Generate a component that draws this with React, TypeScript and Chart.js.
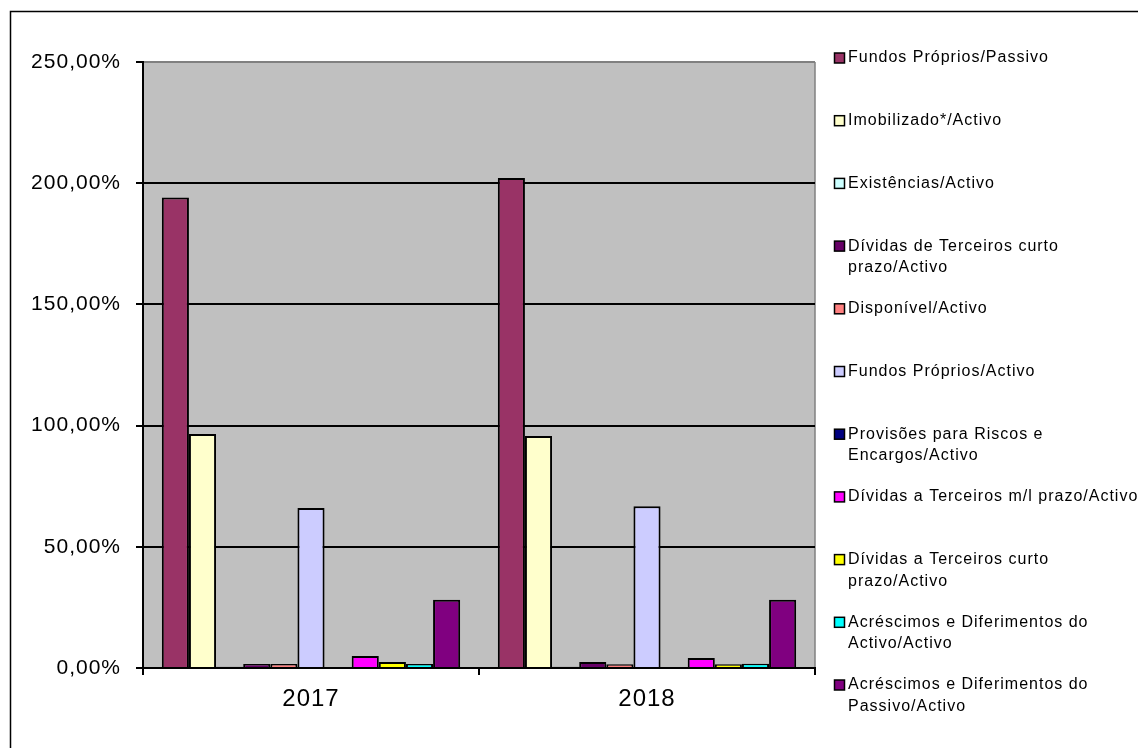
import React, { useEffect, useRef } from 'react';
import { Chart, registerables } from 'chart.js';

Chart.register(...registerables);

const CATEGORIES = ['2017', '2018'];

const SERIES_NAMES = [
  'Fundos Próprios/Passivo',
  'Imobilizado*/Activo',
  'Existências/Activo',
  'Dívidas de Terceiros curto\nprazo/Activo',
  'Disponível/Activo',
  'Fundos Próprios/Activo',
  'Provisões para Riscos e\nEncargos/Activo',
  'Dívidas a Terceiros m/l prazo/Activo',
  'Dívidas a Terceiros curto\nprazo/Activo',
  'Acréscimos e Diferimentos do\nActivo/Activo',
  'Acréscimos e Diferimentos do\nPassivo/Activo',
];

const SERIES_COLORS = [
  '#993366',
  '#FFFFCC',
  '#CCFFFF',
  '#660066',
  '#FF8080',
  '#CCCCFF',
  '#000080',
  '#FF00FF',
  '#FFFF00',
  '#00FFFF',
  '#800080',
];

const VALUES_2017 = [194.1, 96.5, 0.5, 1.7, 1.7, 66.0, 0, 5.0, 2.5, 1.7, 28.2];
const VALUES_2018 = [202.1, 95.7, 0.5, 2.5, 1.5, 66.7, 0, 4.1, 1.5, 1.8, 28.2];

const Y_MIN = 0;
const Y_MAX = 250;
const Y_STEP = 50;

const FONT = 'Liberation Sans, Arial, sans-serif';

const fmtPct = (v: number) => `${v.toFixed(2).replace('.', ',')}%`;

const decorPlugin = {
  id: 'excelDecor',
  beforeDraw(chart: any) {
    const { ctx, chartArea: a } = chart;
    ctx.save();
    ctx.fillStyle = '#FFFFFF';
    ctx.fillRect(0, 0, chart.width, chart.height);
    // outer chart frame
    ctx.strokeStyle = '#000000';
    ctx.lineWidth = 1.5;
    ctx.beginPath();
    ctx.moveTo(10.5, chart.height);
    ctx.lineTo(10.5, 11.5);
    ctx.lineTo(chart.width, 11.5);
    ctx.stroke();
    // plot area background
    ctx.fillStyle = '#C0C0C0';
    ctx.fillRect(a.left, a.top, a.right - a.left, a.bottom - a.top);
    // plot area border (right)
    ctx.strokeStyle = '#808080';
    ctx.lineWidth = 1.5;
    ctx.beginPath();
    ctx.moveTo(a.right, a.top);
    ctx.lineTo(a.right, a.bottom);
    ctx.stroke();
    ctx.restore();
    ctx.letterSpacing = '1px';
  },
  afterDraw(chart: any) {
    const { ctx } = chart;
    ctx.save();
    ctx.letterSpacing = '1px';
    ctx.font = `16px ${FONT}`;
    ctx.textBaseline = 'middle';
    ctx.textAlign = 'left';
    const boxX = 834.5;
    const textX = 848;
    const startY = 58;
    const step = 62.7;
    const lineGap = 21.5;
    chart.data.datasets.forEach((ds: any, i: number) => {
      const y = startY + i * step;
      ctx.fillStyle = ds.backgroundColor;
      ctx.fillRect(boxX, y - 5, 10, 10);
      ctx.strokeStyle = '#000000';
      ctx.lineWidth = 1.5;
      ctx.strokeRect(boxX, y - 5, 10, 10);
      ctx.fillStyle = '#000000';
      String(ds.label)
        .split('\n')
        .forEach((line: string, j: number) => {
          ctx.fillText(line, textX, y + j * lineGap);
        });
    });
    ctx.restore();
  },
};

export default function App() {
  const canvasRef = useRef<HTMLCanvasElement | null>(null);

  useEffect(() => {
    if (!canvasRef.current) return;
    const datasets = SERIES_NAMES.map((name, i) => ({
      label: name,
      data: [VALUES_2017[i], VALUES_2018[i]],
      backgroundColor: SERIES_COLORS[i],
      borderColor: '#000000',
      borderWidth: 2,
      borderSkipped: 'start' as const,
      barPercentage: 1,
      categoryPercentage: 0.888,
    }));

    const chart = new Chart(canvasRef.current, {
      type: 'bar',
      data: { labels: CATEGORIES, datasets },
      options: {
        animation: false,
        responsive: false,
        maintainAspectRatio: false,
        devicePixelRatio: 1,
        layout: { padding: { left: 0, top: 62, right: 323, bottom: 20 } },
        plugins: {
          legend: { display: false },
          tooltip: { enabled: false },
        },
        scales: {
          y: {
            min: Y_MIN,
            max: Y_MAX,
            ticks: {
              stepSize: Y_STEP,
              color: '#000000',
              font: { size: 21, family: FONT },
              padding: 15,
              callback: (v: any) => fmtPct(Number(v)),
            },
            grid: {
              color: (c: any) => (c.tick && c.tick.value === Y_MAX ? '#808080' : '#000000'),
              lineWidth: 2,
              tickColor: '#000000',
              tickLength: 7,
              drawTicks: true,
            },
            border: { color: '#000000', width: 2 },
            afterFit: (s: any) => {
              s.width = 143;
            },
          },
          x: {
            ticks: {
              color: '#000000',
              font: { size: 24, family: FONT },
              padding: 10,
            },
            grid: {
              drawOnChartArea: false,
              drawTicks: true,
              tickLength: 7,
              color: '#000000',
              lineWidth: 2,
              offset: true,
            },
            border: { color: '#000000', width: 2 },
            afterFit: (s: any) => {
              s.height = 60;
            },
          },
        },
      },
      plugins: [decorPlugin],
    });
    return () => chart.destroy();
  }, []);

  return (
    <div style={{ position: 'fixed', left: 0, top: 0, width: 1138, height: 748, background: '#fff' }}>
      <canvas ref={canvasRef} width={1138} height={748} style={{ display: 'block' }} />
    </div>
  );
}
